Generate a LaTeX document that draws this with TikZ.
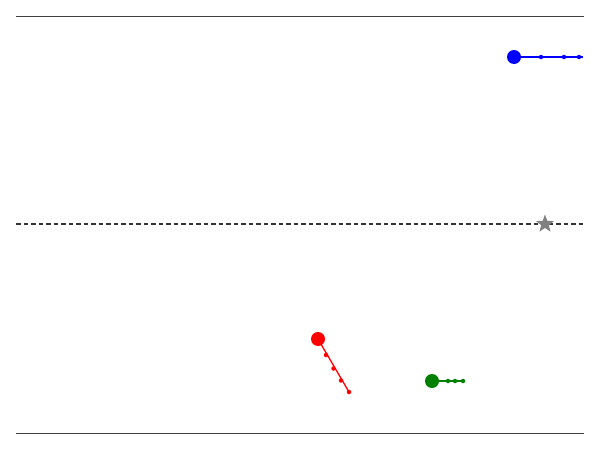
\documentclass[tikz,border=0pt]{standalone}
\usetikzlibrary{shapes.geometric}
\begin{document}
\begin{tikzpicture}[x=1pt,y=-1pt,
  bigdot/.style={circle,fill=#1,inner sep=0pt,minimum size=14pt},
  smalldot/.style={circle,fill=#1,inner sep=0pt,minimum size=4.5pt},
  trail/.style={draw=#1,line width=1.3pt},
  rule/.style={draw=black!75,line width=0.8pt}]
\useasboundingbox (0,0) rectangle (600,450);
\coordinate (tl) at (16,16); \coordinate (tr) at (584,16);
\coordinate (bl) at (16,433); \coordinate (br) at (584,433);
\coordinate (ml) at (16,224); \coordinate (mr) at (584,224);
\draw[rule] (tl) -- (tr);
\draw[rule] (bl) -- (br);
\draw[draw=black!80,line width=1.2pt,dash pattern=on 4.5pt off 3pt] (ml) -- (mr);
\node[star,star points=5,star point ratio=2.4,fill=gray,inner sep=0pt,minimum size=19pt] (star) at (545,224) {};
% blue
\node[bigdot=blue] (b0) at (514,57) {};
\node[smalldot=blue] (b1) at (541,57) {};
\node[smalldot=blue] (b2) at (564,57) {};
\node[smalldot=blue] (b3) at (579,57) {};
\coordinate (b4) at (583,57);
\draw[trail=blue] (b0) -- (b4);
% red
\node[bigdot=red] (r0) at (318,339) {};
\node[smalldot=red] (r1) at (326,355) {};
\node[smalldot=red] (r2) at (333.5,368.5) {};
\node[smalldot=red] (r3) at (341,380.5) {};
\node[smalldot=red] (r4) at (349,392) {};
\draw[trail=red] (r0.center) -- (r4.center);
% green
\node[bigdot=green!50!black] (g0) at (432,381) {};
\node[smalldot=green!50!black] (g1) at (448,381) {};
\node[smalldot=green!50!black] (g2) at (455,381) {};
\node[smalldot=green!50!black] (g3) at (463,381) {};
\draw[trail=green!50!black] (g0.center) -- (g3.center);
\end{tikzpicture}
\end{document}
